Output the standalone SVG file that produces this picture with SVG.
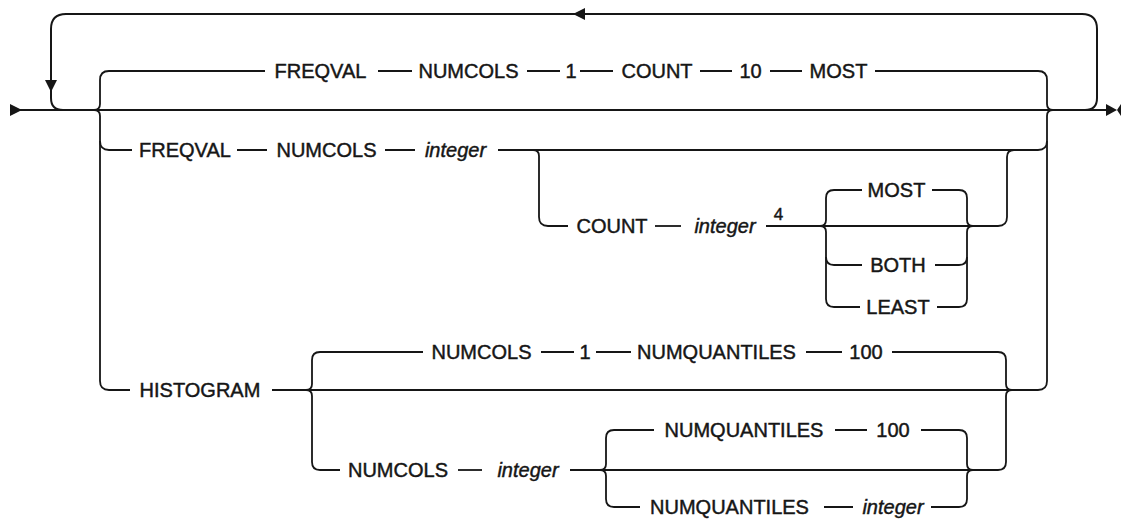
<svg xmlns="http://www.w3.org/2000/svg" width="1121" height="519" viewBox="0 0 1121 519">
<style>
.c{fill:none;stroke:#161616;stroke-width:1.8;stroke-linecap:butt}
.m{fill:none;stroke:#161616;stroke-width:2}
.a{fill:#161616;stroke:none}
text{font-family:"Liberation Sans",Arial,sans-serif;font-size:20px;fill:#161616;stroke:#161616;stroke-width:0.45;text-anchor:middle}
.i{font-style:italic}
.s{font-size:17px}
</style>
<rect width="1121" height="519" fill="#fff"/>
<g id="connectors">
<path class="m" d="M10,110 H1110"/>
<path class="m" d="M1085,110 Q1097,110 1097,98 V29 Q1097,14 1082,14 H66 Q51,14 51,29 V98 Q51,110 63,110"/>
<polygon class="a" points="45,80 57,80 51,92"/>
<polygon class="a" points="573,14 585,8 585,20"/>
<polygon class="a" points="10,104 22,110 10,116"/>
<polygon class="a" points="1106,104 1117,110 1106,116"/>
<polygon class="a" points="1121,104 1117,110 1121,116"/>
<path class="c" d="M94,110 Q100,110 100,104 V80 Q100,71 109,71 H265"/>
<path class="c" d="M94,110 Q100,110 100,116 V381 Q100,390 109,390 H130"/>
<path class="c" d="M100,141 Q100,150 109,150 H132"/>
<path class="c" d="M875,71 H1038 Q1047,71 1047,80 V104 Q1047,110 1053,110"/>
<path class="c" d="M1053,110 Q1047,110 1047,116 V381 Q1047,390 1038,390 H272"/>
<path class="c" d="M498,150 H1038 Q1047,150 1047,141"/>
<path class="c" d="M378,71 H412 M527,71 H560 M580,71 H613 M700,71 H732 M770,71 H802"/>
<path class="c" d="M237,150 H267 M385,150 H415"/>
<path class="c" d="M533,150 Q539,150 539,156 V217 Q539,226 548,226 H568"/>
<path class="c" d="M655,226 H681"/>
<path class="c" d="M766,226 H998 Q1007,226 1007,217 V157 Q1007,150 1014,150"/>
<path class="c" d="M820,226 Q826,226 826,220 V198 Q826,190 834,190 H862"/>
<path class="c" d="M820,226 Q826,226 826,232 V299 Q826,307 834,307 H860"/>
<path class="c" d="M826,257 Q826,265 834,265 H862"/>
<path class="c" d="M932,190 H959 Q967,190 967,198 V220 Q967,226 973,226"/>
<path class="c" d="M973,226 Q967,226 967,232 V299 Q967,307 959,307 H937"/>
<path class="c" d="M935,265 H959 Q967,265 967,257"/>
<path class="c" d="M306,390 Q312,390 312,384 V360 Q312,352 320,352 H423"/>
<path class="c" d="M306,390 Q312,390 312,396 V462 Q312,470 320,470 H340"/>
<path class="c" d="M892,352 H998 Q1006,352 1006,360 V384 Q1006,390 1012,390"/>
<path class="c" d="M1012,390 Q1006,390 1006,396 V462 Q1006,470 998,470 H570"/>
<path class="c" d="M541,352 H574 M596,352 H631 M806,352 H842"/>
<path class="c" d="M458,470 H482"/>
<path class="c" d="M600,470 Q606,470 606,464 V438 Q606,430 614,430 H654"/>
<path class="c" d="M600,470 Q606,470 606,476 V499 Q606,507 614,507 H640"/>
<path class="c" d="M921,430 H959 Q967,430 967,438 V464 Q967,470 973,470"/>
<path class="c" d="M973,470 Q967,470 967,476 V499 Q967,507 959,507 H931"/>
<path class="c" d="M835,430 H867 M824,507 H853"/>
</g>
<g id="row1">
<text x="320.5" y="78">FREQVAL</text>
<text x="468.5" y="78">NUMCOLS</text>
<text x="571" y="78">1</text>
<text x="657" y="78">COUNT</text>
<text x="750.5" y="78">10</text>
<text x="838.5" y="78">MOST</text>
</g>
<g id="row2">
<text x="185" y="157">FREQVAL</text>
<text x="326.5" y="157">NUMCOLS</text>
<text class="i" x="455.5" y="157">integer</text>
</g>
<g id="count">
<text x="612" y="233">COUNT</text>
<text class="i" x="725" y="233">integer</text>
<text class="s" x="778.5" y="220">4</text>
</g>
<g id="most"><text x="896.5" y="197">MOST</text></g>
<g id="both"><text x="898" y="272">BOTH</text></g>
<g id="least"><text x="898" y="314">LEAST</text></g>
<g id="histogram"><text x="200" y="397">HISTOGRAM</text></g>
<g id="hist-upper">
<text x="481.5" y="359">NUMCOLS</text>
<text x="585" y="359">1</text>
<text x="716.5" y="359">NUMQUANTILES</text>
<text x="866" y="359">100</text>
</g>
<g id="hist-lower">
<text x="398" y="477">NUMCOLS</text>
<text class="i" x="528" y="477">integer</text>
</g>
<g id="quant-default">
<text x="744" y="437">NUMQUANTILES</text>
<text x="893" y="437">100</text>
</g>
<g id="quant-integer">
<text x="729.5" y="514">NUMQUANTILES</text>
<text class="i" x="893" y="514">integer</text>
</g>
</svg>
